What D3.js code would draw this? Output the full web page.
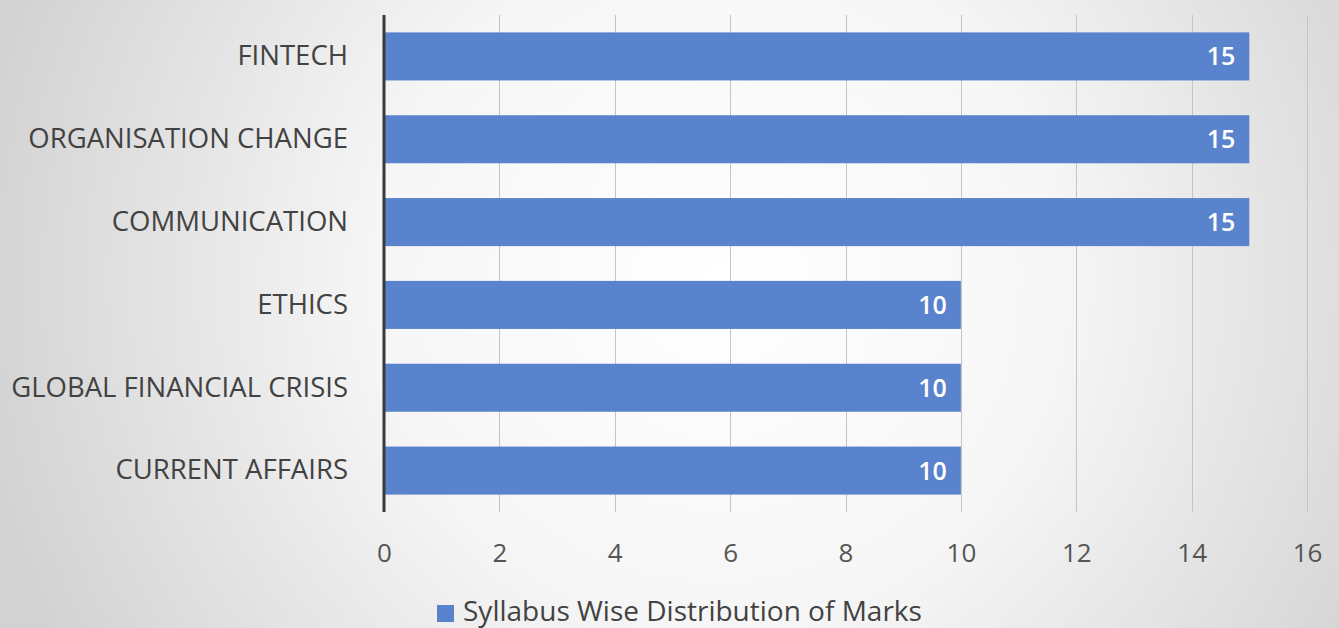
<!DOCTYPE html>
<html>
<head>
<meta charset="utf-8">
<script src="https://cdn.jsdelivr.net/npm/d3@7"></script>
<style>
  html, body { margin: 0; padding: 0; overflow: hidden; }
  svg { display: block; }
</style>
</head>
<body>
<svg id="chart" width="1339" height="628"></svg>
<script>
const categories = ["FINTECH", "ORGANISATION CHANGE", "COMMUNICATION", "ETHICS", "GLOBAL FINANCIAL CRISIS", "CURRENT AFFAIRS"];
const marks = [15, 15, 15, 10, 10, 10];
const xTicks = [0, 2, 4, 6, 8, 10, 12, 14, 16];
const seriesName = "Syllabus Wise Distribution of Marks";

const W = 1339, H = 628;
const svg = d3.select("#chart");

// background radial gradient
const defs = svg.append("defs");
const grad = defs.append("radialGradient")
  .attr("id", "bg").attr("gradientUnits", "userSpaceOnUse")
  .attr("cx", 720).attr("cy", 280).attr("r", 760);
grad.append("stop").attr("offset", "0%").attr("stop-color", "#ffffff");
grad.append("stop").attr("offset", "45%").attr("stop-color", "#f6f6f6");
grad.append("stop").attr("offset", "100%").attr("stop-color", "#d2d2d2");
svg.append("rect").attr("width", W).attr("height", H).attr("fill", "url(#bg)");

const x = d3.scaleLinear().domain([0, 16]).range([384, 1307]);
const y = d3.scaleBand().domain(categories).range([15, 512]).paddingInner(0.42).paddingOuter(0.21);

const font = "'Open Sans', sans-serif";

// gridlines
svg.append("g").selectAll("line").data(xTicks.slice(1)).join("line")
  .attr("x1", d => Math.round(x(d)) + 0.5).attr("x2", d => Math.round(x(d)) + 0.5)
  .attr("y1", 15).attr("y2", 512)
  .attr("stroke", "#c4c4c4").attr("stroke-width", 1);

// bars
svg.append("g").selectAll("rect").data(categories).join("rect")
  .attr("x", x(0))
  .attr("y", d => y(d))
  .attr("width", (d, i) => x(marks[i]) - x(0))
  .attr("height", y.bandwidth())
  .attr("fill", "#5a83cd");

// value labels
svg.append("g").selectAll("text").data(categories).join("text")
  .attr("x", (d, i) => x(marks[i]) - 14)
  .attr("y", d => y(d) + y.bandwidth() / 2)
  .attr("dy", "0.36em")
  .attr("text-anchor", "end")
  .attr("font-family", font).attr("font-size", 25).attr("font-weight", 600)
  .attr("fill", "#ffffff")
  .text((d, i) => marks[i]);

// y axis line
svg.append("line")
  .attr("x1", 384).attr("x2", 384).attr("y1", 15).attr("y2", 512)
  .attr("stroke", "#3a3a3a").attr("stroke-width", 3);

// category labels
const yAxis = d3.axisLeft(y).tickSize(0).tickPadding(36);
const ya = svg.append("g").attr("transform", "translate(384,0)").call(yAxis);
ya.select(".domain").remove();
ya.selectAll("text")
  .attr("font-family", font).attr("font-size", 27.5)
  .attr("fill", "#424242");

// x tick labels
const xAxis = d3.axisBottom(x).tickValues(xTicks).tickSize(0).tickPadding(0).tickFormat(d3.format("d"));
const xa = svg.append("g").attr("transform", "translate(0,544)").call(xAxis);
xa.select(".domain").remove();
xa.selectAll("text")
  .attr("font-family", font).attr("font-size", 26)
  .attr("fill", "#555555");

// legend
const lg = svg.append("g");
lg.append("rect").attr("x", 437).attr("y", 605).attr("width", 17).attr("height", 17).attr("fill", "#5a83cd");
lg.append("text").attr("x", 463).attr("y", 621)
  .attr("font-family", font).attr("font-size", 28).attr("fill", "#424242")
  .text(seriesName);
</script>
</body>
</html>
